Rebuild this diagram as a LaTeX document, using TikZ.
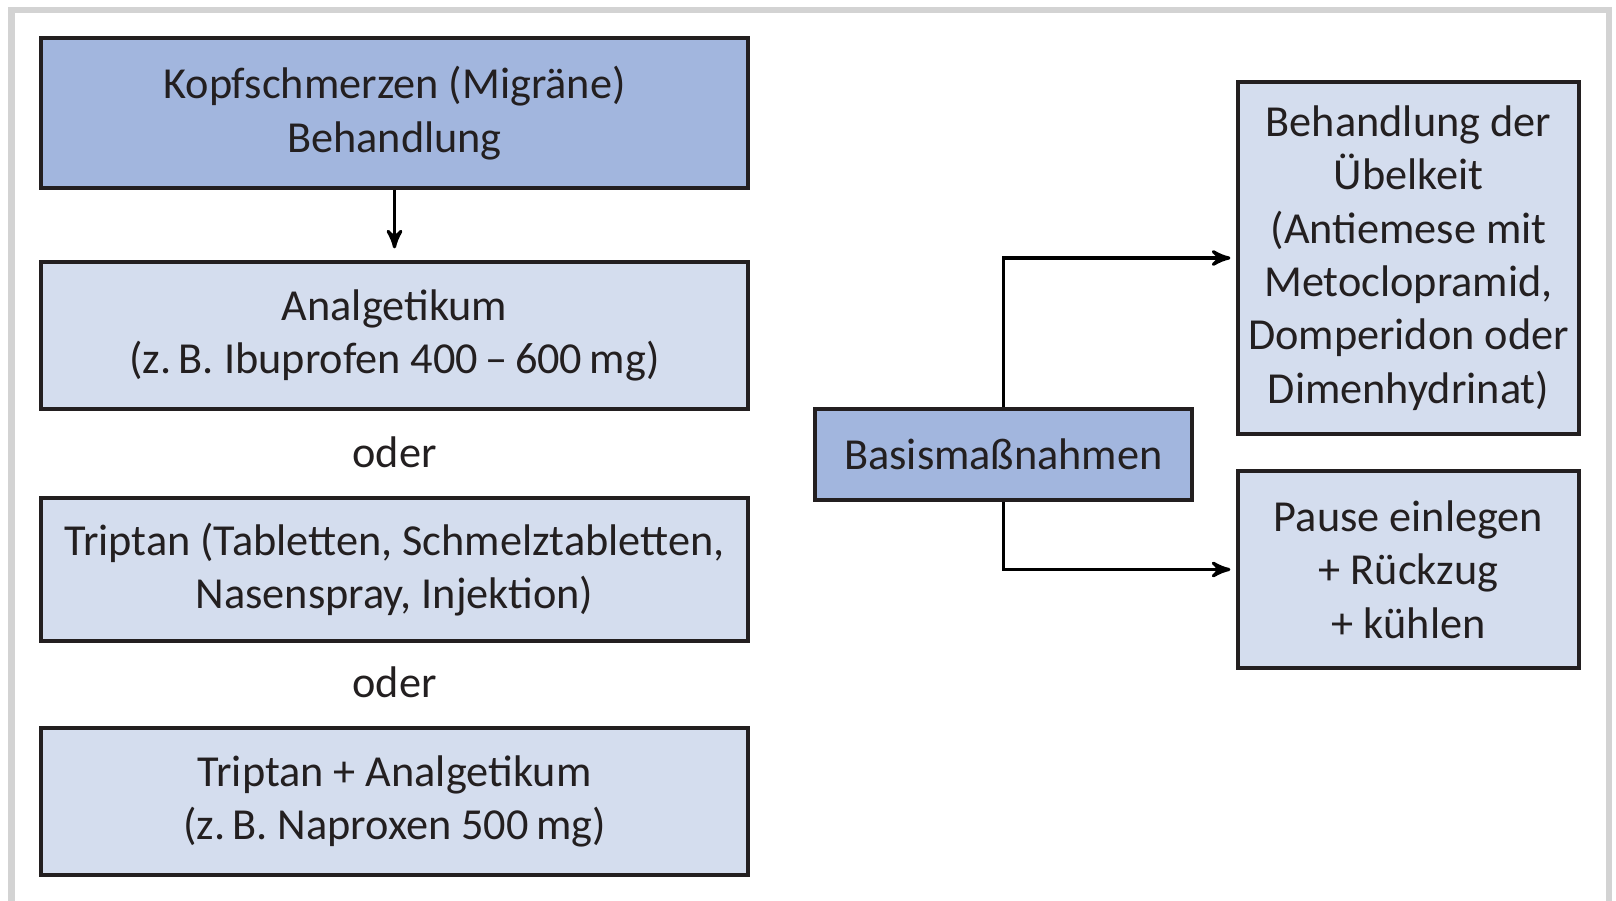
\documentclass[tikz,border=0pt]{standalone}
\usepackage{fontspec}
\setmainfont{Carlito}
\usetikzlibrary{arrows,positioning}

\definecolor{headblue}{HTML}{A2B6DE}
\definecolor{paleblue}{HTML}{D4DDEE}
\definecolor{inkgray}{HTML}{231F20}
\definecolor{framegray}{HTML}{D3D3D3}

\begin{document}
\begin{tikzpicture}[>=stealth',line width=0.9pt,node distance=1.17cm,
  every node/.style={font=\fontsize{12.6}{15.2}\selectfont,text=inkgray},
  main node/.style={draw=inkgray,rectangle,align=center,inner sep=0pt,
    minimum width=7.07cm,minimum height=1.47cm,fill=paleblue},
  head node/.style={main node,fill=headblue},
  side node/.style={main node,minimum width=3.41cm}]

  \useasboundingbox (0,0) rectangle (16.16,-9);
  % grey frame
  \draw[framegray,line width=1.8pt] (0.115,-9.1) -- (0.115,-0.1) -- (16.09,-0.1) -- (16.09,-9.1);

  \node[head node,minimum height=1.50cm] (kopf) at (3.945,-1.13)
    {Kopfschmerzen (Migräne)\\Behandlung};
  \node[main node] (anal) [below of=kopf,node distance=2.225cm]
    {Analgetikum\\(z.\,B. Ibuprofen 400\,–\,600\,mg)};
  \node (oder1) [below of=anal] {oder};
  \node[main node,minimum height=1.43cm] (trip) [below of=oder1]
    {Triptan (Tabletten, Schmelztabletten,\\Nasenspray, Injektion)};
  \node (oder2) [below of=trip,node distance=1.125cm] {oder};
  \node[main node] (kombi) [below of=oder2,node distance=1.195cm]
    {Triptan + Analgetikum\\(z.\,B. Naproxen 500\,mg)};

  \node[head node,minimum width=3.77cm,minimum height=0.91cm] (basis) at (10.035,-4.545)
    {Basismaßnahmen};
  \node[side node,minimum height=3.52cm] (uebel) at (14.085,-2.58)
    {Behandlung der\\Übelkeit\\(Antiemese mit\\Metoclopramid,\\Domperidon oder\\Dimenhydrinat)};
  \node[side node,minimum height=1.97cm] (pause) at (14.085,-5.695)
    {Pause einlegen\\+ Rückzug\\+ kühlen};

  \draw[->,shorten >=1.2mm] (kopf) -- (anal);
  \draw[->,shorten >=0.6mm] (basis) |- (uebel);
  \draw[->,shorten >=0.6mm] (basis) |- (pause);
\end{tikzpicture}
\end{document}
